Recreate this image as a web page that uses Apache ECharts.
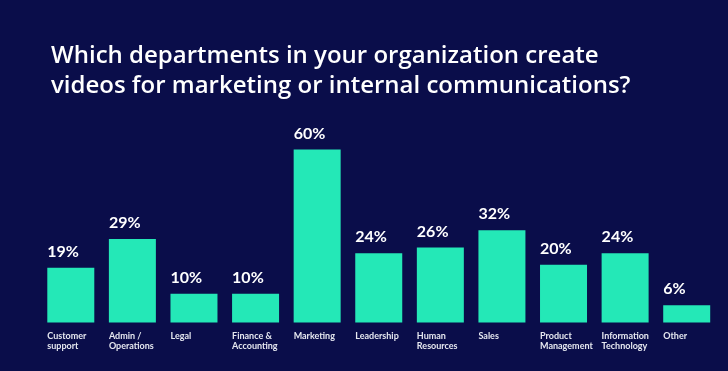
<!DOCTYPE html>
<html>
<head>
<meta charset="utf-8">
<script src="https://cdn.jsdelivr.net/npm/echarts@6/dist/echarts.min.js"></script>
<style>
html,body{margin:0;padding:0;background:#0a0d4a;}
#chart{width:728px;height:371px;}
</style>
</head>
<body>
<div id="chart"></div>
<script>
const titleText = "Which departments in your organization create\nvideos for marketing or internal communications?";
const categories = ["Customer\nsupport", "Admin /\nOperations", "Legal", "Finance &\nAccounting", "Marketing", "Leadership", "Human\nResources", "Sales", "Product\nManagement", "Information\nTechnology", "Other"];
const values = [19, 29, 10, 10, 60, 24, 26, 32, 20, 24, 6];

const chart = echarts.init(document.getElementById('chart'), null, {renderer: 'canvas'});
chart.setOption({
  backgroundColor: '#0a0d4a',
  animation: false,
  title: {
    text: titleText,
    left: 46,
    top: 36,
    textStyle: {
      color: '#ffffff',
      fontFamily: 'Open Sans',
      fontWeight: 600,
      fontSize: 24,
      lineHeight: 30
    }
  },
  grid: {left: 40, right: 10.5, top: 149.5, bottom: 48.5},
  xAxis: {
    type: 'category',
    data: categories,
    axisLine: {show: false},
    axisTick: {show: false},
    axisLabel: {
      interval: 0,
      align: 'left',
      verticalAlign: 'top',
      margin: 9,
      padding: [0, 0, 0, -23.5],
      color: '#e6e8f0',
      fontFamily: 'Lato',
      fontWeight: 'bold',
      fontSize: 9,
      lineHeight: 10
    }
  },
  yAxis: {
    type: 'value',
    min: 0,
    max: 60,
    show: false,
    splitLine: {show: false}
  },
  series: [{
    type: 'bar',
    data: values,
    barWidth: 47,
    itemStyle: {color: '#24e8b7'},
    label: {
      show: true,
      position: [0, -8],
      align: 'left',
      verticalAlign: 'bottom',
      formatter: '{c}%',
      color: '#ffffff',
      fontFamily: 'Lato',
      fontWeight: 'bold',
      fontSize: 16
    }
  }]
});
</script>
</body>
</html>
